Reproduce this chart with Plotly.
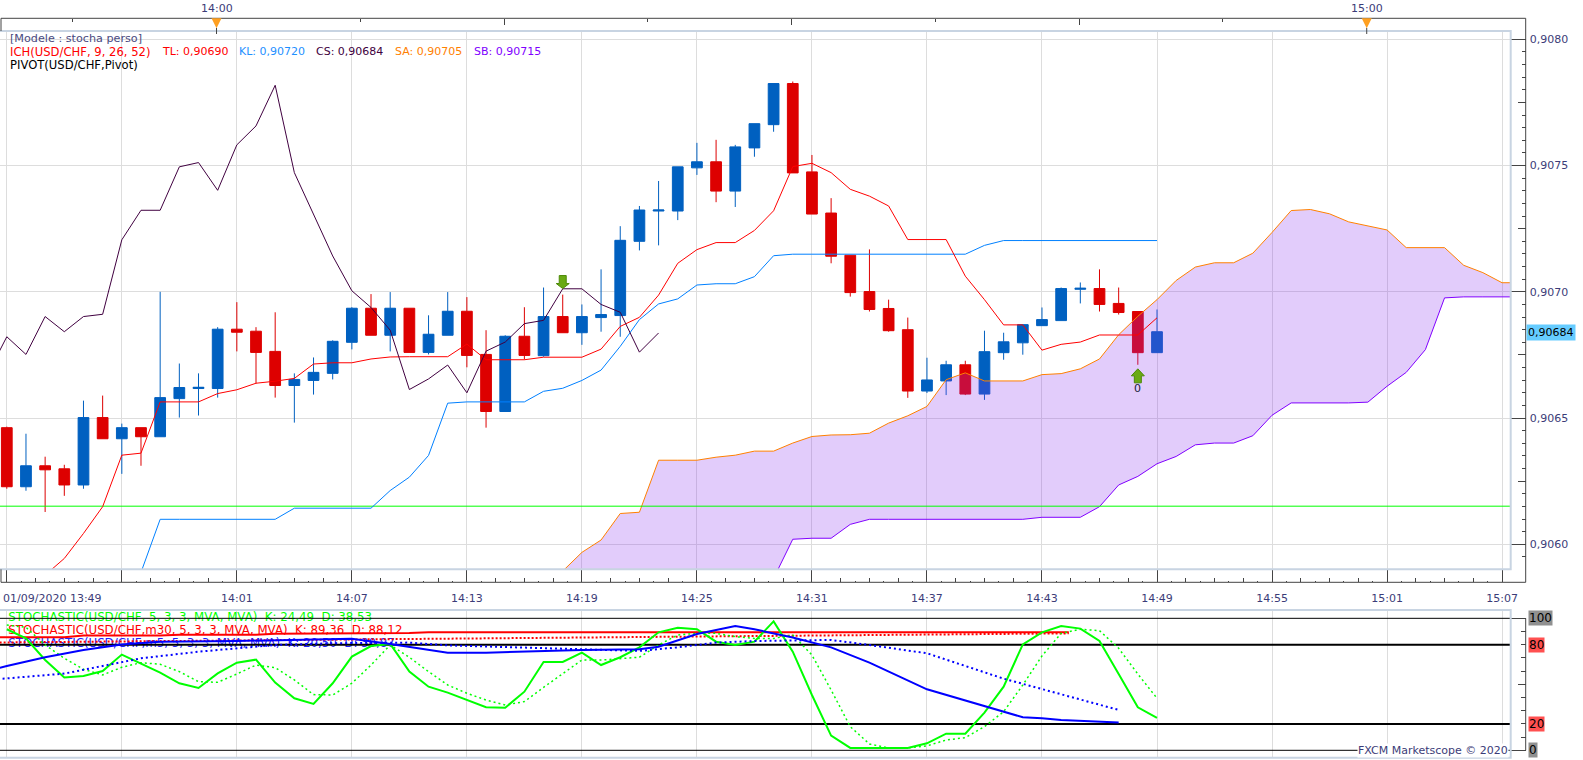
import plotly.graph_objects as go

W, H = 1583, 760
FONT = "DejaVu Sans"
FONT_SIZE = 11
TEXT_COLOR = "#3c3c78"
AXIS_COLOR = "#444444"
GRID_COLOR = "#dddddd"
FRAME_COLOR = "#c8d4e2"

# candles, one per minute from 13:49 (index 0)
minutes = list(range(61))
opens = [
    0.906462, 0.906228, 0.906311, 0.906299, 0.906235, 0.906502, 0.906418, 0.906462, 0.906426, 0.906577,
    0.906617, 0.906617, 0.906852, 0.906844, 0.906764, 0.906629, 0.906649, 0.906677, 0.906800, 0.906935,
    0.906828, 0.906935, 0.906760, 0.906828, 0.906923, 0.906752, 0.906526, 0.906824, 0.906747, 0.906902,
    0.906838, 0.906898, 0.906906, 0.907200, 0.907320, 0.907320, 0.907491, 0.907515, 0.907399, 0.907570,
    0.907662, 0.907825, 0.907475, 0.907312, 0.907145, 0.907001, 0.906934, 0.906850, 0.906607, 0.906647,
    0.906711, 0.906595, 0.906759, 0.906798, 0.906866, 0.906886, 0.907010, 0.907013, 0.906954, 0.906922,
    0.906759,
]
highs = [
    0.906466, 0.906438, 0.906347, 0.906315, 0.906569, 0.906589, 0.906478, 0.906462, 0.907000, 0.906716,
    0.906677, 0.906860, 0.906959, 0.906860, 0.906919, 0.906677, 0.906740, 0.906808, 0.906939, 0.906991,
    0.906999, 0.906935, 0.906907, 0.906999, 0.906979, 0.906848, 0.906828, 0.906939, 0.907017, 0.906989,
    0.906950, 0.907089, 0.907260, 0.907340, 0.907439, 0.907495, 0.907590, 0.907602, 0.907582, 0.907666,
    0.907825, 0.907833, 0.907542, 0.907371, 0.907145, 0.907168, 0.906969, 0.906898, 0.906739, 0.906727,
    0.906727, 0.906846, 0.906838, 0.906870, 0.906938, 0.907017, 0.907037, 0.907089, 0.907017, 0.906922,
    0.906930,
]
lows = [
    0.906220, 0.906212, 0.906128, 0.906192, 0.906220, 0.906418, 0.906279, 0.906311, 0.906426, 0.906502,
    0.906510, 0.906581, 0.906764, 0.906637, 0.906581, 0.906482, 0.906593, 0.906653, 0.906772, 0.906828,
    0.906764, 0.906760, 0.906752, 0.906828, 0.906701, 0.906462, 0.906526, 0.906732, 0.906743, 0.906838,
    0.906790, 0.906842, 0.906822, 0.907164, 0.907184, 0.907284, 0.907463, 0.907355, 0.907336, 0.907535,
    0.907634, 0.907471, 0.907308, 0.907113, 0.906981, 0.906922, 0.906842, 0.906580, 0.906599, 0.906591,
    0.906591, 0.906572, 0.906731, 0.906751, 0.906866, 0.906886, 0.906954, 0.906922, 0.906910, 0.906711,
    0.906759,
]
closes = [
    0.906228, 0.906311, 0.906295, 0.906235, 0.906502, 0.906418, 0.906462, 0.906426, 0.906581, 0.906621,
    0.906622, 0.906852, 0.906840, 0.906760, 0.906629, 0.906653, 0.906681, 0.906804, 0.906935, 0.906828,
    0.906935, 0.906760, 0.906832, 0.906923, 0.906748, 0.906526, 0.906824, 0.906748, 0.906902, 0.906838,
    0.906902, 0.906910, 0.907204, 0.907324, 0.907324, 0.907495, 0.907515, 0.907399, 0.907574, 0.907666,
    0.907825, 0.907471, 0.907308, 0.907141, 0.906997, 0.906930, 0.906846, 0.906607, 0.906651, 0.906711,
    0.906595, 0.906763, 0.906802, 0.906870, 0.906890, 0.907013, 0.907014, 0.906950, 0.906918, 0.906759,
    0.906842,
]

# ichimoku lines
tenkan_x = list(range(2, 61))
tenkan = [
    0.905878, 0.905944, 0.906043, 0.906149, 0.906353, 0.906361, 0.906564, 0.906564, 0.906564, 0.906597,
    0.906612, 0.906638, 0.906646, 0.906657, 0.906714, 0.906719, 0.906719, 0.906734, 0.906742, 0.906743,
    0.906743, 0.906743, 0.906793, 0.906731, 0.906731, 0.906731, 0.906741, 0.906741, 0.906741, 0.906773,
    0.906863, 0.906899, 0.906987, 0.907113, 0.907167, 0.907195, 0.907195, 0.907243, 0.907321, 0.907496,
    0.907509, 0.907472, 0.907406, 0.907379, 0.907340, 0.907207, 0.907207, 0.907207, 0.907062, 0.906969,
    0.906869, 0.906869, 0.906769, 0.906792, 0.906801, 0.906829, 0.906829, 0.906829, 0.906897,
]
kijun_x = list(range(7, 61))
kijun = [
    0.905889, 0.906099, 0.906099, 0.906099, 0.906099, 0.906099, 0.906099, 0.906099, 0.906143, 0.906143,
    0.906143, 0.906143, 0.906143, 0.906213, 0.906266, 0.906352, 0.906559, 0.906564, 0.906564, 0.906564,
    0.906564, 0.906606, 0.906618, 0.906649, 0.906690, 0.906784, 0.906890, 0.906952, 0.906972, 0.907027,
    0.907032, 0.907032, 0.907060, 0.907143, 0.907149, 0.907149, 0.907149, 0.907149, 0.907149, 0.907149,
    0.907149, 0.907149, 0.907149, 0.907149, 0.907184, 0.907203, 0.907203, 0.907203, 0.907203, 0.907203,
    0.907203, 0.907203, 0.907203, 0.907203,
]
chikou_x = list(range(-1, 35))
chikou = [
    0.906674, 0.906822, 0.906752, 0.906902, 0.906842, 0.906902, 0.906911, 0.907206, 0.907323, 0.907323,
    0.907495, 0.907512, 0.907402, 0.907582, 0.907657, 0.907818, 0.907472, 0.907307, 0.907142, 0.907004,
    0.906938, 0.906848, 0.906613, 0.906655, 0.906710, 0.906600, 0.906765, 0.906801, 0.906874, 0.906887,
    0.907012, 0.907012, 0.906950, 0.906919, 0.906761, 0.906837,
]
cloud_x = list(range(28, 80))
senkou_a = [
    0.905820, 0.905892, 0.905968, 0.906017, 0.906122, 0.906127, 0.906333, 0.906333, 0.906333, 0.906345,
    0.906353, 0.906369, 0.906369, 0.906401, 0.906427, 0.906433, 0.906434, 0.906440, 0.906480, 0.906509,
    0.906546, 0.906652, 0.906679, 0.906647, 0.906647, 0.906647, 0.906672, 0.906676, 0.906695, 0.906734,
    0.906830, 0.906903, 0.906969, 0.907045, 0.907098, 0.907115, 0.907115, 0.907153, 0.907235, 0.907322,
    0.907326, 0.907309, 0.907277, 0.907261, 0.907245, 0.907175, 0.907175, 0.907175, 0.907105, 0.907076,
    0.907036, 0.907036,
]
senkou_b = [
    0.905800, 0.905800, 0.905800, 0.905800, 0.905800, 0.905800, 0.905800, 0.905800, 0.905800, 0.905800,
    0.905800, 0.905800, 0.905865, 0.906020, 0.906024, 0.906024, 0.906079, 0.906099, 0.906099, 0.906099,
    0.906099, 0.906099, 0.906099, 0.906099, 0.906099, 0.906099, 0.906107, 0.906107, 0.906107, 0.906149,
    0.906235, 0.906269, 0.906319, 0.906348, 0.906394, 0.906401, 0.906401, 0.906430, 0.906511, 0.906560,
    0.906560, 0.906560, 0.906560, 0.906563, 0.906626, 0.906681, 0.906771, 0.906976, 0.906980, 0.906980,
    0.906980, 0.906980,
]
pivot_x = [-1, 80]
pivot = [0.906151, 0.906151]

# stochastic panel
stoch_x = list(range(61))
green_k = [
    91.7, 84.8, 68.4, 55.1, 56.3, 60.1, 72.5, 65.4, 58.8, 50.8, 47.2, 58.3, 66.4, 68.7, 51.3, 39.4, 35.1,
    50.8, 71.0, 79.0, 80.6, 59.6, 48.2, 43.7, 38.1, 32.6, 32.3, 44.4, 66.9, 66.9, 74.0, 64.6, 70.5, 78.0,
    89.4, 92.9, 91.7, 82.3, 79.8, 82.3, 97.7, 74.7, 41.9, 11.1, 1.8, 1.8, 1.8, 1.8, 5.3, 12.6, 12.6, 28.5,
    48.2, 80.3, 89.4, 94.2, 92.2, 82.8, 57.8, 32.6, 24.5,
]
green_d = [
    94.9, 93.2, 79.8, 69.7, 61.4, 57.1, 62.9, 66.4, 65.2, 59.6, 52.0, 51.5, 57.8, 64.6, 62.6, 53.3, 42.2,
    41.9, 50.8, 64.6, 79.8, 70.5, 59.6, 49.5, 43.2, 38.1, 34.3, 36.9, 47.7, 58.3, 68.4, 68.4, 69.7, 70.5,
    79.8, 87.4, 88.6, 88.6, 86.1, 84.8, 84.8, 87.4, 72.2, 45.7, 17.9, 4.8, 1.8, 1.8, 3.3, 7.8, 9.6, 17.9,
    29.3, 49.5, 71.5, 88.6, 91.7, 90.7, 77.3, 57.8, 39.4,
]
red_k_x = [-1, 3, 4, 8, 9, 13, 14, 19, 20, 21, 22, 55.4]
red_k = [85.6, 85.6, 86.9, 86.9, 87.6, 87.6, 88.4, 88.4, 88.9, 88.9, 89.4, 89.4]
red_d_x = [-1, 5, 10, 15, 20, 25, 32, 40, 46, 52, 55.4]
red_d = [81.6, 82.4, 83.1, 83.8, 84.2, 84.8, 85.9, 86.9, 87.9, 88.6, 88.6]
blue_k_x = [-1, 0, 2, 4, 6, 8, 12, 15, 17, 18, 20, 22, 23, 25, 27, 28, 30, 33, 34, 36, 38, 39, 41, 43, 45, 48, 53, 54, 55, 58]
blue_k = [
    60.0, 63.9, 70.5, 76.0, 80.1, 82.3, 82.8, 83.6, 84.6, 84.6, 80.6, 76.0, 74.0, 74.0, 74.7, 75.5, 76.0,
    76.5, 78.5, 88.1, 94.2, 91.7, 85.4, 78.0, 66.4, 46.2, 25.0, 24.2, 23.0, 21.0,
]
blue_d_x = [-1, 0, 3, 7, 10, 14, 17, 21, 23, 27, 30, 33, 35, 37, 39, 41, 43, 45, 48, 52, 54, 58]
blue_d = [
    53.5, 54.5, 58.1, 69.7, 74.7, 79.8, 81.1, 81.6, 79.5, 78.0, 76.5, 75.3, 78.0, 81.6, 82.8, 83.1, 83.6,
    79.8, 73.5, 54.3, 46.5, 30.6,
]
level_values = [100, 80, 20, 0]
level_widths = [1, 2, 2, 1]

# axis labels
time_ticks = list(range(0, 79, 6))
time_labels = ["", "", "14:01", "14:07", "14:13", "14:19", "14:25", "14:31", "14:37", "14:43", "14:49", "14:55", "15:01", "15:07"]
first_time_label = "01/09/2020 13:49"
hour_marks = [10.94, 70.94]
hour_labels = ["14:00", "15:00"]
last_price = 0.90684
last_price_label = "0,90684"
level_tags = ["100", "80", "20", "0"]
level_tag_colors = ["#909090", "#ff5050", "#ff5050", "#909090"]

title_lines = [
    (8.4, 39, "[Modele : stocha perso]", "#4a4a80", 11.2),
    (8.4, 52, "ICH(USD/CHF, 9, 26, 52)", "#ff0000", 11.6),
    (160, 52, "TL: 0,90690", "#ff0000", 11),
    (236.6, 52, "KL: 0,90720", "#1e90ff", 11),
    (313.7, 52, "CS: 0,90684", "#400040", 11),
    (393, 52, "SA: 0,90705", "#ff8000", 11),
    (472.3, 52, "SB: 0,90715", "#8000ff", 11),
    (8.4, 65, "PIVOT(USD/CHF,Pivot)", "#000000", 11.6),
]
stoch_labels = [
    (100, "STOCHASTIC(USD/CHF, 5, 3, 3, MVA, MVA)  K: 24,49  D: 38,53", "#00ff00"),
    (90.4, "STOCHASTIC(USD/CHF,m30, 5, 3, 3, MVA, MVA)  K: 89,36  D: 88,12", "#ff0000"),
    (80.5, "STOCHASTIC(USD/CHF,m5, 5, 3, 3, MVA, MVA)  K: 20,50  D: 30,87", "#2020ff"),
]


def px(x):
    return x / W


def py(y):
    return 1 - y / H


fig = go.Figure()

fig.add_trace(
    go.Candlestick(
        x=minutes,
        open=opens,
        high=highs,
        low=lows,
        close=closes,
        whiskerwidth=0,
        increasing=dict(line=dict(color="#0060c0", width=1), fillcolor="#0060c0"),
        decreasing=dict(line=dict(color="#dd0000", width=1), fillcolor="#dd0000"),
    )
)

# cloud sits over the candles, that is why they turn crimson and violet in it
fig.add_trace(go.Scatter(x=cloud_x, y=senkou_b, mode="lines", line=dict(color="#8000ff", width=1)))
fig.add_trace(
    go.Scatter(
        x=cloud_x,
        y=senkou_a,
        mode="lines",
        line=dict(color="#ff8000", width=1),
        fill="tonexty",
        fillcolor="rgba(140,50,240,0.25)",
    )
)
fig.add_trace(go.Scatter(x=pivot_x, y=pivot, mode="lines", line=dict(color="#00ff00", width=1)))
fig.add_trace(go.Scatter(x=kijun_x, y=kijun, mode="lines", line=dict(color="#0080ff", width=1)))
fig.add_trace(go.Scatter(x=tenkan_x, y=tenkan, mode="lines", line=dict(color="#ff0000", width=1)))
fig.add_trace(go.Scatter(x=chikou_x, y=chikou, mode="lines", line=dict(color="#400040", width=1)))

# stochastic panel, labels first so the level lines run through them
for value, label, color in stoch_labels:
    fig.add_trace(
        go.Scatter(
            x=[0.08],
            y=[value],
            xaxis="x2",
            yaxis="y2",
            mode="text",
            text=[label],
            textposition="middle right",
            textfont=dict(family=FONT, size=11.8, color=color),
        )
    )
for value, width in zip(level_values, level_widths):
    fig.add_trace(
        go.Scatter(x=[-1, 80], y=[value, value], xaxis="x2", yaxis="y2", mode="lines", line=dict(color="black", width=width))
    )


def add_stoch(x, y, color, width, dash="solid"):
    fig.add_trace(
        go.Scatter(x=x, y=y, xaxis="x2", yaxis="y2", mode="lines", line=dict(color=color, width=width, dash=dash))
    )


add_stoch(red_d_x, red_d, "#ff0000", 2, "2px,2px")
add_stoch(red_k_x, red_k, "#ff0000", 2)
add_stoch(stoch_x, green_d, "#00ff00", 1.5, "2px,3px")
add_stoch(stoch_x, green_k, "#00ff00", 2)
add_stoch(blue_d_x, blue_d, "#0000ff", 2, "2px,3px")
add_stoch(blue_k_x, blue_k, "#0000ff", 2)

# empty traces so that the overlay tick axes exist
for xa, ya in [("x3", "y"), ("x4", "y"), ("x", "y3"), ("x2", "y4")]:
    fig.add_trace(go.Scatter(x=[0], y=[0.907 if ya != "y4" else 50], xaxis=xa, yaxis=ya, mode="none"))

x_range = [-6.8 / 19.17, (1510.7 - 6.8) / 19.17]
x_domain = [0, px(1510.7)]
axis_pos = px(1525.7)

fig.update_layout(
    width=W,
    height=H,
    margin=dict(l=0, r=0, t=0, b=0, autoexpand=False),
    paper_bgcolor="white",
    plot_bgcolor="white",
    showlegend=False,
    hovermode=False,
    separators=", ",
    boxgap=0.2,
    font=dict(family=FONT, size=FONT_SIZE, color=TEXT_COLOR),
    xaxis=dict(
        domain=x_domain,
        range=x_range,
        rangeslider=dict(visible=False),
        anchor="free",
        position=py(582.3),
        side="bottom",
        tickmode="array",
        tickvals=time_ticks,
        ticktext=time_labels,
        ticks="inside",
        ticklen=12.7,
        ticklabelstandoff=8,
        tickcolor=AXIS_COLOR,
        minor=dict(ticks="inside", tick0=0, dtick=1.5, ticklen=4, tickcolor=AXIS_COLOR, showgrid=False),
        showline=False,
        showgrid=True,
        gridcolor=GRID_COLOR,
        zeroline=False,
        tickfont=dict(family=FONT, size=FONT_SIZE, color=TEXT_COLOR),
    ),
    xaxis2=dict(
        domain=x_domain,
        range=x_range,
        anchor="y2",
        tickmode="array",
        tickvals=time_ticks,
        showticklabels=False,
        ticks="",
        showgrid=True,
        gridcolor=GRID_COLOR,
        zeroline=False,
    ),
    xaxis3=dict(
        domain=x_domain,
        range=x_range,
        overlaying="x",
        anchor="free",
        position=py(582.3),
        side="bottom",
        tick0=0,
        dtick=0.75,
        ticks="inside",
        ticklen=1.5,
        tickcolor=AXIS_COLOR,
        showticklabels=False,
        showgrid=False,
        zeroline=False,
    ),
    xaxis4=dict(
        domain=x_domain,
        range=x_range,
        overlaying="x",
        anchor="free",
        position=py(18.3),
        side="top",
        tick0=10.94,
        dtick=15,
        ticks="inside",
        ticklen=5.5,
        tickcolor=AXIS_COLOR,
        minor=dict(ticks="inside", tick0=3.44, dtick=7.5, ticklen=3, tickcolor=AXIS_COLOR, showgrid=False),
        showticklabels=False,
        showgrid=False,
        zeroline=False,
    ),
    yaxis=dict(
        domain=[py(569.3), py(31)],
        range=[0.905901, 0.908033],
        anchor="free",
        position=axis_pos,
        side="right",
        tick0=0.906,
        dtick=0.0005,
        tickformat=".4f",
        ticks="inside",
        ticklen=15,
        ticklabelstandoff=3,
        tickcolor=AXIS_COLOR,
        minor=dict(ticks="inside", tick0=0.906, dtick=0.00005, ticklen=3.7, tickcolor=AXIS_COLOR, showgrid=False),
        showgrid=True,
        gridcolor=GRID_COLOR,
        zeroline=False,
        tickfont=dict(family=FONT, size=FONT_SIZE, color=TEXT_COLOR),
    ),
    yaxis3=dict(
        domain=[py(569.3), py(31)],
        range=[0.905901, 0.908033],
        overlaying="y",
        anchor="free",
        position=axis_pos,
        side="right",
        tick0=0.90625,
        dtick=0.0005,
        ticks="inside",
        ticklen=7.5,
        tickcolor=AXIS_COLOR,
        showticklabels=False,
        showgrid=False,
        zeroline=False,
    ),
    yaxis2=dict(
        domain=[py(757.7), py(610)],
        range=[-5.6, 106.3],
        anchor="free",
        position=axis_pos,
        side="right",
        tickmode="array",
        tickvals=[0, 100],
        ticktext=["", ""],
        ticks="inside",
        ticklen=14.5,
        tickcolor=AXIS_COLOR,
        minor=dict(ticks="inside", tick0=0, dtick=10, ticklen=5, tickcolor=AXIS_COLOR, showgrid=False),
        showgrid=False,
        zeroline=False,
    ),
    yaxis4=dict(
        domain=[py(757.7), py(610)],
        range=[-5.6, 106.3],
        overlaying="y2",
        anchor="free",
        position=axis_pos,
        side="right",
        tickmode="array",
        tickvals=[50],
        ticktext=[""],
        ticks="inside",
        ticklen=7.5,
        tickcolor=AXIS_COLOR,
        showgrid=False,
        zeroline=False,
    ),
)

# frames and the axis spines that run past the plot domains
frame = dict(type="rect", xref="paper", yref="paper", line=dict(color=FRAME_COLOR, width=2))
fig.add_shape(**frame, x0=px(-2), x1=px(1510.7), y0=py(569.3), y1=py(31))
fig.add_shape(**frame, x0=px(-2), x1=px(1510.7), y0=py(757.7), y1=py(610))
spine = dict(type="line", xref="paper", yref="paper", line=dict(color=AXIS_COLOR, width=1))
fig.add_shape(**spine, x0=px(1), x1=px(1525.7), y0=py(18.3), y1=py(18.3))
fig.add_shape(**spine, x0=px(1), x1=px(1525.7), y0=py(582.3), y1=py(582.3))
fig.add_shape(**spine, x0=axis_pos, x1=axis_pos, y0=py(18.3), y1=py(582.3))
fig.add_shape(**spine, x0=px(1), x1=px(1), y0=py(18.3), y1=py(31))
fig.add_shape(**spine, x0=px(1), x1=px(1), y0=py(569.3), y1=py(582.3))
fig.add_shape(type="line", xref="paper", yref="y2", x0=axis_pos, x1=axis_pos, y0=0, y1=100, line=dict(color=AXIS_COLOR, width=1))

# orange hour flags on the top strip
for mark, label in zip(hour_marks, hour_labels):
    fig.add_shape(
        type="path",
        xref="x",
        yref="paper",
        xsizemode="pixel",
        ysizemode="pixel",
        xanchor=mark,
        yanchor=py(18.3),
        path="M -5 0 L 5 0 L 0 -10 Z",
        fillcolor="#ffa020",
        line=dict(color="#ffa020", width=0),
    )
    fig.add_shape(
        type="line",
        xref="x",
        yref="paper",
        x0=mark,
        x1=mark,
        y0=py(28),
        y1=py(34),
        line=dict(color=AXIS_COLOR, width=1),
    )
    fig.add_annotation(
        x=mark, y=py(9), xref="x", yref="paper", yanchor="middle", text=label, showarrow=False, font=dict(size=FONT_SIZE, color=TEXT_COLOR)
    )

# signal arrows, anchored on their tips
green_arrow = dict(
    type="path",
    xref="x",
    yref="y",
    xsizemode="pixel",
    ysizemode="pixel",
    fillcolor="#6aaa14",
    line=dict(color="#4e8a08", width=1),
)
fig.add_shape(**green_arrow, xanchor=29, yanchor=0.907013, path="M 0 0 L -6.5 5 L -3.5 5 L -3.5 13 L 3.5 13 L 3.5 5 L 6.5 5 Z")
fig.add_shape(**green_arrow, xanchor=59, yanchor=0.906695, path="M 0 0 L -6.5 -7 L -3.5 -7 L -3.5 -14 L 3.5 -14 L 3.5 -7 L 6.5 -7 Z")
fig.add_annotation(x=59, y=0.906616, xref="x", yref="y", text="0", showarrow=False, font=dict(size=FONT_SIZE, color="#202040"))

for x, y, label, color, size in title_lines:
    fig.add_annotation(
        x=px(x),
        y=py(y),
        xref="paper",
        yref="paper",
        xanchor="left",
        yanchor="middle",
        text=label,
        showarrow=False,
        font=dict(size=size, color=color),
    )

fig.add_annotation(
    x=px(1),
    y=py(598),
    xref="paper",
    yref="paper",
    xanchor="left",
    yanchor="middle",
    text=first_time_label,
    showarrow=False,
    font=dict(size=FONT_SIZE, color=TEXT_COLOR),
)
fig.add_annotation(
    x=px(1526),
    y=last_price,
    xref="paper",
    yref="y",
    xanchor="left",
    yanchor="middle",
    text=last_price_label,
    showarrow=False,
    bgcolor="#66ccff",
    borderpad=1,
    font=dict(size=FONT_SIZE, color="black"),
)
for value, tag, color in zip(level_values, level_tags, level_tag_colors):
    fig.add_annotation(
        x=px(1527.5),
        y=value,
        xref="paper",
        yref="y2",
        xanchor="left",
        yanchor="middle",
        text=tag,
        showarrow=False,
        bgcolor=color,
        borderpad=0,
        font=dict(size=FONT_SIZE + 1, color="black"),
    )
fig.add_annotation(
    x=px(1509),
    y=0,
    xref="paper",
    yref="y2",
    xanchor="right",
    yanchor="middle",
    text="FXCM Marketscope © 2020",
    showarrow=False,
    bgcolor="white",
    borderpad=0,
    font=dict(size=FONT_SIZE, color=TEXT_COLOR),
)

fig.write_html(
    "out.html",
    config=dict(displayModeBar=False),
    post_script="document.body.style.margin='0';document.body.style.overflow='hidden';",
)
